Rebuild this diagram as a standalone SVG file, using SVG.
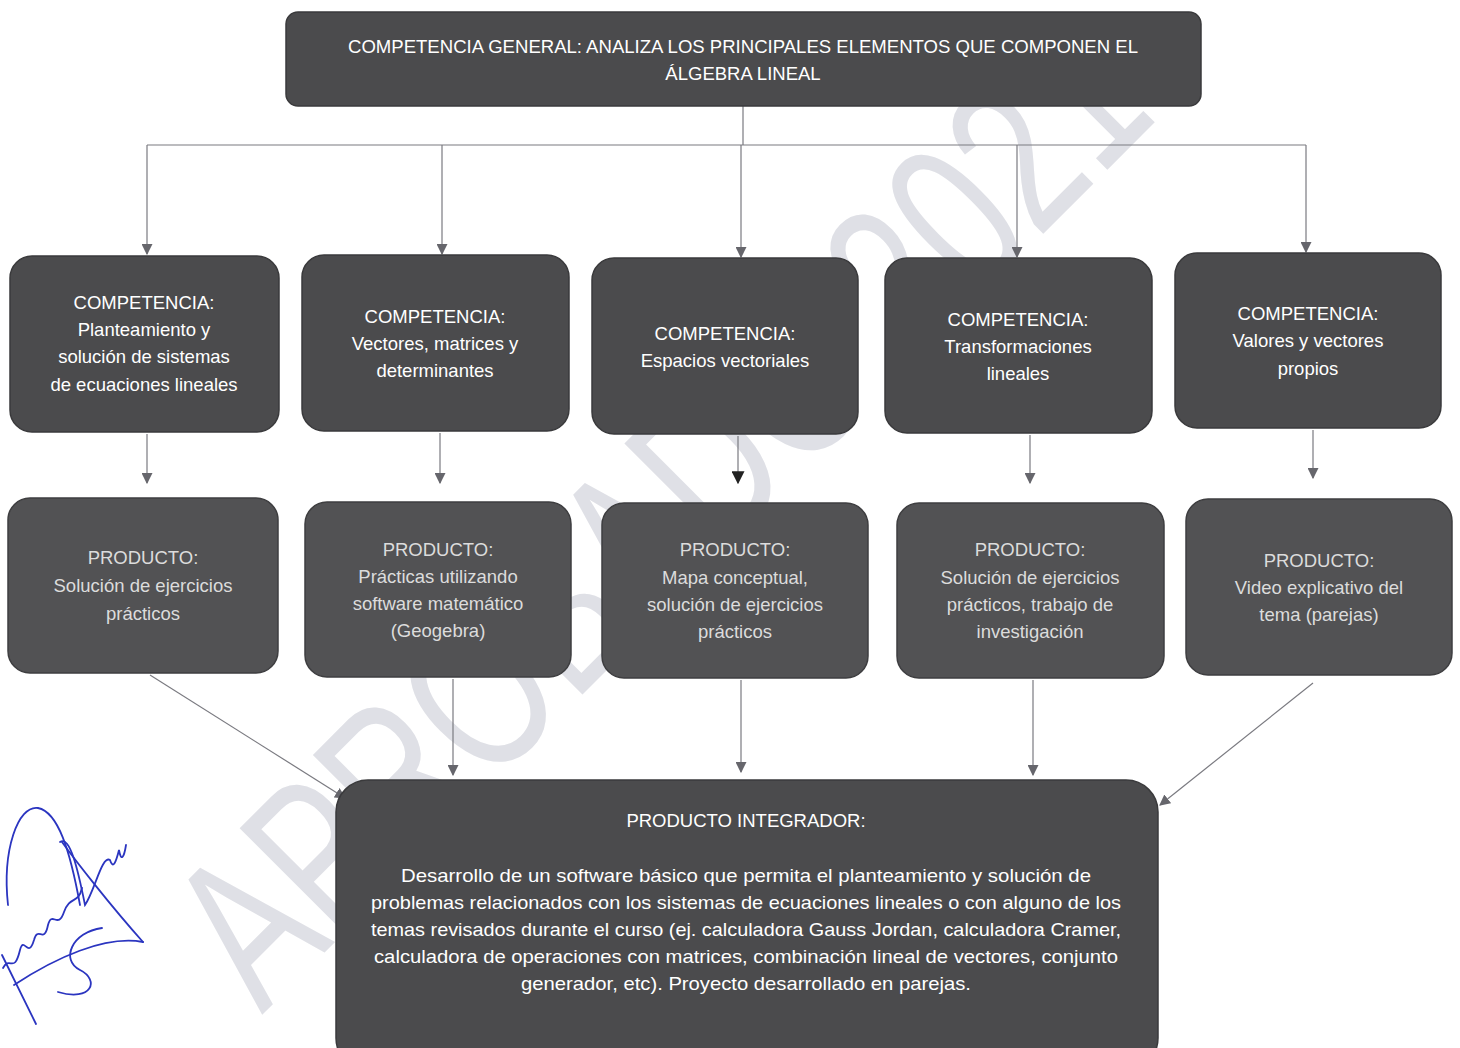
<svg xmlns="http://www.w3.org/2000/svg" width="1460" height="1048" viewBox="0 0 1460 1048">
<style>
.box{fill:#4b4b4d;stroke:#3a3a3c;stroke-width:1.5}
.pbox{fill:#525254;stroke:#3e3e40;stroke-width:1.5}
.t{font-family:"Liberation Sans",Arial,sans-serif;font-size:18.5px;fill:#ffffff;text-anchor:middle}
.pt{font-family:"Liberation Sans",Arial,sans-serif;font-size:18.5px;fill:#dcdcdc;text-anchor:middle}
.ln{fill:none;stroke:#7a7a80;stroke-width:1.2}
.wm{font-family:"Liberation Sans",Arial,sans-serif;font-size:215px;fill:#dfe0e6}
.sig{fill:none;stroke:#2b35c0;stroke-width:1.8;stroke-linecap:round}
</style>
<defs>
<marker id="ah" viewBox="0 0 10 10" refX="9" refY="5" markerWidth="11" markerHeight="11" markerUnits="userSpaceOnUse" orient="auto">
<path d="M0,0 L10,5 L0,10 z" fill="#66666c"/>
</marker>
<marker id="ahb" viewBox="0 0 10 10" refX="9" refY="5" markerWidth="13" markerHeight="13" markerUnits="userSpaceOnUse" orient="auto">
<path d="M0,0 L10,5 L0,10 z" fill="#222"/>
</marker>
</defs>
<rect width="1460" height="1048" fill="#ffffff"/>
<text class="wm" transform="translate(262,1015) rotate(-45)" textLength="1270" lengthAdjust="spacingAndGlyphs">APROBADO 2021</text>

<g id="connectors">
<path class="ln" d="M743,106 V145"/>
<path class="ln" d="M147,145 H1306"/>
<path class="ln" d="M147,145 V254" marker-end="url(#ah)"/>
<path class="ln" d="M442,145 V254" marker-end="url(#ah)"/>
<path class="ln" d="M741,145 V257" marker-end="url(#ah)"/>
<path class="ln" d="M1017,145 V257" marker-end="url(#ah)"/>
<path class="ln" d="M1306,145 V252" marker-end="url(#ah)"/>
<path class="ln" d="M147,434 V483" marker-end="url(#ah)"/>
<path class="ln" d="M440,433 V483" marker-end="url(#ah)"/>
<path class="ln" d="M738,436 V483" marker-end="url(#ahb)"/>
<path class="ln" d="M1030,435 V483" marker-end="url(#ah)"/>
<path class="ln" d="M1313,430 V478" marker-end="url(#ah)"/>
<path class="ln" d="M150,675 L345,798" marker-end="url(#ah)"/>
<path class="ln" d="M453,679 V775" marker-end="url(#ah)"/>
<path class="ln" d="M741,680 V772" marker-end="url(#ah)"/>
<path class="ln" d="M1033,680 V775" marker-end="url(#ah)"/>
<path class="ln" d="M1313,683 L1160,805" marker-end="url(#ah)"/>
</g>

<g id="general">
<rect class="box" x="286" y="12" width="915" height="94" rx="12"/>
<text class="t" x="743" y="53" textLength="790" lengthAdjust="spacingAndGlyphs">COMPETENCIA GENERAL: ANALIZA LOS PRINCIPALES ELEMENTOS QUE COMPONEN EL</text>
<text class="t" x="743" y="80">ÁLGEBRA LINEAL</text>
</g>

<g id="comp1">
<rect class="box" x="10" y="256" width="269" height="176" rx="22"/>
<text class="t" x="144" y="309">COMPETENCIA:</text>
<text class="t" x="144" y="336">Planteamiento y</text>
<text class="t" x="144" y="363">solución de sistemas</text>
<text class="t" x="144" y="391">de ecuaciones lineales</text>
</g>
<g id="comp2">
<rect class="box" x="302" y="255" width="267" height="176" rx="22"/>
<text class="t" x="435" y="323">COMPETENCIA:</text>
<text class="t" x="435" y="350">Vectores, matrices y</text>
<text class="t" x="435" y="377">determinantes</text>
</g>
<g id="comp3">
<rect class="box" x="592" y="258" width="266" height="176" rx="22"/>
<text class="t" x="725" y="340">COMPETENCIA:</text>
<text class="t" x="725" y="367">Espacios vectoriales</text>
</g>
<g id="comp4">
<rect class="box" x="885" y="258" width="267" height="175" rx="22"/>
<text class="t" x="1018" y="326">COMPETENCIA:</text>
<text class="t" x="1018" y="353">Transformaciones</text>
<text class="t" x="1018" y="380">lineales</text>
</g>
<g id="comp5">
<rect class="box" x="1175" y="253" width="266" height="175" rx="22"/>
<text class="t" x="1308" y="320">COMPETENCIA:</text>
<text class="t" x="1308" y="347">Valores y vectores</text>
<text class="t" x="1308" y="375">propios</text>
</g>

<g id="prod1">
<rect class="pbox" x="8" y="498" width="270" height="175" rx="22"/>
<text class="pt" x="143" y="564">PRODUCTO:</text>
<text class="pt" x="143" y="592">Solución de ejercicios</text>
<text class="pt" x="143" y="620">prácticos</text>
</g>
<g id="prod2">
<rect class="pbox" x="305" y="502" width="266" height="175" rx="22"/>
<text class="pt" x="438" y="556">PRODUCTO:</text>
<text class="pt" x="438" y="583">Prácticas utilizando</text>
<text class="pt" x="438" y="610">software matemático</text>
<text class="pt" x="438" y="637">(Geogebra)</text>
</g>
<g id="prod3">
<rect class="pbox" x="602" y="503" width="266" height="175" rx="22"/>
<text class="pt" x="735" y="556">PRODUCTO:</text>
<text class="pt" x="735" y="584">Mapa  conceptual,</text>
<text class="pt" x="735" y="611">solución de ejercicios</text>
<text class="pt" x="735" y="638">prácticos</text>
</g>
<g id="prod4">
<rect class="pbox" x="897" y="503" width="267" height="175" rx="22"/>
<text class="pt" x="1030" y="556">PRODUCTO:</text>
<text class="pt" x="1030" y="584">Solución de ejercicios</text>
<text class="pt" x="1030" y="611">prácticos, trabajo de</text>
<text class="pt" x="1030" y="638">investigación</text>
</g>
<g id="prod5">
<rect class="pbox" x="1186" y="499" width="266" height="176" rx="22"/>
<text class="pt" x="1319" y="567">PRODUCTO:</text>
<text class="pt" x="1319" y="594">Video explicativo del</text>
<text class="pt" x="1319" y="621">tema (parejas)</text>
</g>

<g id="integrador">
<rect class="box" x="336" y="780" width="822" height="290" rx="32"/>
<text class="t" x="746" y="827">PRODUCTO INTEGRADOR:</text>
<text class="t" x="746" y="882" textLength="690" lengthAdjust="spacingAndGlyphs">Desarrollo de un software básico que permita el planteamiento y solución de</text>
<text class="t" x="746" y="909" textLength="750" lengthAdjust="spacingAndGlyphs">problemas relacionados con los sistemas de ecuaciones lineales o con alguno de los</text>
<text class="t" x="746" y="936" textLength="750" lengthAdjust="spacingAndGlyphs">temas revisados durante el curso (ej. calculadora Gauss Jordan, calculadora Cramer,</text>
<text class="t" x="746" y="963" textLength="744" lengthAdjust="spacingAndGlyphs">calculadora de operaciones con matrices, combinación lineal de vectores, conjunto</text>
<text class="t" x="746" y="990" textLength="450" lengthAdjust="spacingAndGlyphs">generador, etc). Proyecto desarrollado en parejas.</text>
</g>

<g id="signature">
<path class="sig" d="M8,905 C2,850 18,805 38,808 C58,812 70,850 80,905"/>
<path class="sig" d="M36,1024 L2,955"/>
<path class="sig" d="M14,985 C55,958 105,935 143,942"/>
<path class="sig" d="M62,842 C75,860 110,905 143,942"/>
<path class="sig" d="M3,968 C10,955 14,975 20,950 C24,935 28,960 34,940 C38,925 44,945 48,925 C52,910 58,930 64,912 C70,895 78,905 82,888"/>
<path class="sig" d="M60,842 C70,835 78,870 85,905 C95,890 102,855 110,860 C113,870 116,862 119,850 C121,862 124,858 126,845"/>
<path class="sig" d="M102,928 C72,932 60,960 80,970 C100,980 92,1002 58,992"/>
</g>
</svg>
